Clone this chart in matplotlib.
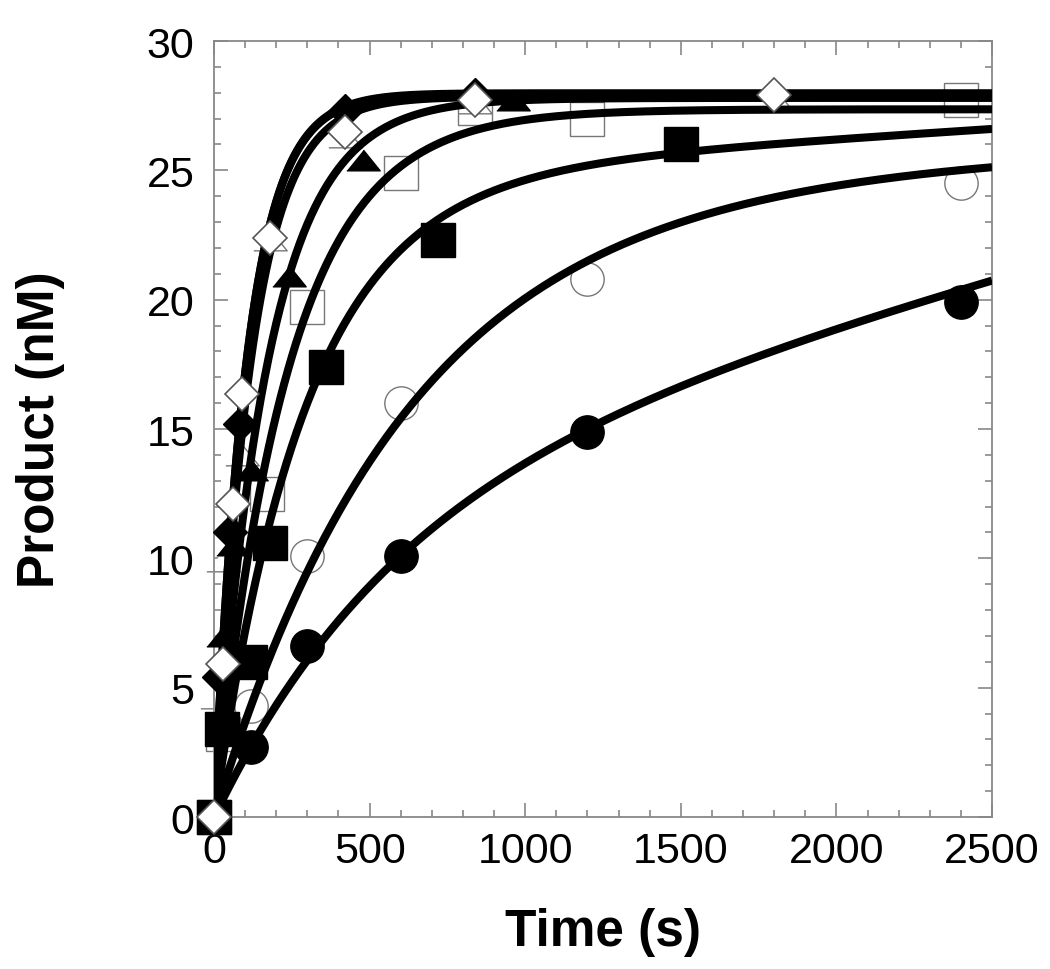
import matplotlib
matplotlib.use("Agg")
import matplotlib.pyplot as plt
import numpy as np
from matplotlib.ticker import MultipleLocator

plt.rcParams["font.family"] = ["Liberation Sans", "DejaVu Sans"]

# measured points (time in s, product in nM)
t_circle_closed = [0, 120, 300, 600, 1200, 2400]
y_circle_closed = [0, 2.7, 6.6, 10.1, 14.9, 19.9]

t_circle_open = [0, 120, 300, 600, 1200, 2400]
y_circle_open = [0, 4.3, 10.1, 16.0, 20.8, 24.5]

t_square_closed = [0, 25, 115, 180, 360, 720, 1500]
y_square_closed = [0, 3.4, 6.0, 10.6, 17.4, 22.3, 26.0]

t_square_open = [0, 30, 170, 300, 600, 840, 1200, 2400]
y_square_open = [0, 3.2, 12.5, 19.7, 24.9, 27.4, 27.0, 27.7]

t_tri_closed = [0, 30, 60, 120, 240, 480, 960]
y_tri_closed = [0, 7.0, 10.5, 13.4, 20.9, 25.4, 27.7]

t_tri_open = [0, 10, 30, 90, 180, 420, 840, 1800]
y_tri_open = [0, 4.6, 9.9, 14.0, 22.3, 26.3, 27.6, 27.8]

t_dia_closed = [0, 15, 50, 85, 420, 840]
y_dia_closed = [0, 5.4, 11.0, 15.2, 27.3, 27.9]

t_dia_open = [0, 30, 60, 90, 180, 420, 840, 1800]
y_dia_open = [0, 5.9, 12.1, 16.35, 22.4, 26.5, 27.7, 27.9]

# fitted curves: amplitude (nM), rate (1/s), linear term (nM/s)
fit_amp = [12.72, 24.9, 24.68, 27.36, 27.8, 27.85, 27.98, 27.95]
fit_rate = [0.0017, 0.00158, 0.0034, 0.0042, 0.0058, 0.0085, 0.0095, 0.0095]
fit_slope = [0.00328, 0.00028, 0.00077, 0.0, 0.0, 0.0, 0.0, 0.0]

tri_marker = [(-1, -0.62), (1, -0.62), (0, 0.62)]

series = [
    (t_circle_closed, y_circle_closed, dict(marker="o", ms=24, mfc="black", mec="black", zorder=4)),
    (t_circle_open, y_circle_open, dict(marker="o", ms=24, mfc="white", mec="#777777", mew=1, zorder=2)),
    (t_square_closed, y_square_closed, dict(marker="s", ms=24, mfc="black", mec="black", zorder=4)),
    (t_square_open, y_square_open, dict(marker="s", ms=24, mfc="white", mec="#777777", mew=1, zorder=2)),
    (t_tri_closed, y_tri_closed, dict(marker=tri_marker, ms=24, mfc="black", mec="black", zorder=4)),
    (t_tri_open, y_tri_open, dict(marker=tri_marker, ms=24, mfc="white", mec="#777777", mew=1, zorder=2)),
    (t_dia_closed, y_dia_closed, dict(marker="D", ms=17, mfc="black", mec="black", zorder=4)),
    (t_dia_open, y_dia_open, dict(marker="D", ms=17, mfc="white", mec="#555555", mew=1.2, zorder=5)),
]

fig = plt.figure(figsize=(10.5, 9.7), dpi=100)
ax = fig.add_axes([0.2038, 0.1567, 0.741, 0.8])

t_fit = np.linspace(0, 2500, 600)
for amp, rate, slope in zip(fit_amp, fit_rate, fit_slope):
    ax.plot(t_fit, amp * (1 - np.exp(-rate * t_fit)) + slope * t_fit,
            color="black", lw=5.8, zorder=3, solid_capstyle="butt")

for t, y, style in series:
    ax.plot(t, y, linestyle="none", clip_on=False, **style)

ax.set_xlim(0, 2500)
ax.set_ylim(0, 30)
ax.xaxis.set_major_locator(MultipleLocator(500))
ax.xaxis.set_minor_locator(MultipleLocator(100))
ax.yaxis.set_major_locator(MultipleLocator(5))
ax.yaxis.set_minor_locator(MultipleLocator(1))

for side in ax.spines.values():
    side.set_color("#888888")
    side.set_linewidth(1.3)

ax.tick_params(which="both", direction="in", top=True, right=True,
               color="#888888", width=1.2, labelsize=31)
ax.tick_params(which="major", length=10)
ax.tick_params(which="minor", length=5)
ax.tick_params(axis="x", pad=10)
ax.tick_params(axis="y", pad=14)

ax.set_xlabel("Time (s)", fontsize=37, fontweight="bold", labelpad=26)
ax.set_ylabel("Product (nM)", fontsize=37, fontweight="bold", labelpad=59)

fig.savefig("out.png", dpi=100)
